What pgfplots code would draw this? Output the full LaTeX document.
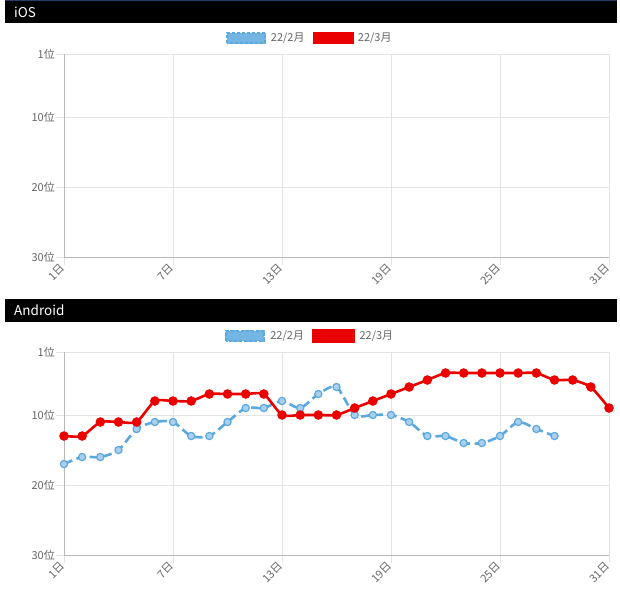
\documentclass[border=0pt]{standalone}
\usepackage{fontspec}
\setmainfont{Noto Sans CJK JP}
\usepackage{pgfplots}
\usepackage{pgfplotstable}
\pgfplotsset{compat=1.18}
\definecolor{lineblue}{RGB}{90,168,222}
\definecolor{markblue}{RGB}{170,208,238}
\definecolor{chartred}{RGB}{235,0,0}
\definecolor{gridgray}{RGB}{228,228,228}
\definecolor{axisgray}{RGB}{185,185,185}
\definecolor{labelgray}{RGB}{102,102,102}
\definecolor{topnavy}{RGB}{40,60,100}

\pgfplotstableread{
day rank
1 17
2 16
3 16
4 15
5 12
6 11
7 11
8 13
9 13
10 11
11 9
12 9
13 8
14 9
15 7
16 6
17 10
18 10
19 10
20 11
21 13
22 13
23 14
24 14
25 13
26 11
27 12
28 13
}\febdata

\pgfplotstableread{
day rank
1 13
2 13
3 11
4 11
5 11
6 8
7 8
8 8
9 7
10 7
11 7
12 7
13 10
14 10
15 10
16 10
17 9
18 8
19 7
20 6
21 5
22 4
23 4
24 4
25 4
26 4
27 4
28 5
29 5
30 6
31 9
}\mardata

\pgfplotsset{
  bluelegend/.style={legend image code/.code={
    \fill[lineblue!85] (0pt,-5pt) rectangle (38pt,5pt);
    \draw[lineblue, line width=1.5pt, dash pattern=on 3pt off 2pt] (0pt,-5pt) rectangle (38pt,5pt);}},
  redlegend/.style={legend image code/.code={
    \fill[chartred] (0pt,-5.5pt) rectangle (40pt,5.5pt);}},
  rankaxis/.style={
    scale only axis, width=545pt, height=203pt, anchor=north west,
    clip=false,
    xmin=1, xmax=31, ymin=1, ymax=30, y dir=reverse,
    xtick={1,7,13,19,25,31}, xticklabels={1日,7日,13日,19日,25日,31日},
    ytick={1,10,20,30}, yticklabels={1位,10位,20位,30位},
    grid=major, grid style={gridgray, line width=0.8pt},
    axis line style={gridgray, line width=0.8pt},
    tick align=outside, major tick length=8pt,
    tick style={gridgray, line width=0.8pt},
    tick pos=left,
    xticklabel style={rotate=45, anchor=east, font=\fontsize{11}{13}\selectfont, text=labelgray, inner sep=1.5pt},
    yticklabel style={font=\fontsize{11}{13}\selectfont, text=labelgray, inner sep=1pt},
    legend style={at={(0.4514,1.0788)}, anchor=center, draw=none, fill=none,
      font=\fontsize{11}{13}\selectfont, text=labelgray,
      /tikz/every odd column/.append style={column sep=3pt},
      /tikz/every even column/.append style={column sep=6pt}},
    legend columns=-1,
  }
}

\begin{document}
\begin{tikzpicture}
\useasboundingbox (0pt,0pt) rectangle (620pt,-592pt);
\fill[white] (0pt,0pt) rectangle (620pt,-592pt);
% iOS header
\fill[black] (5pt,-1pt) rectangle (617pt,-23pt);
\draw[topnavy, line width=1pt] (5pt,-0.5pt) -- (617pt,-0.5pt);
\node[anchor=west, text=white, font=\fontsize{13.5}{15}\selectfont, inner sep=0pt] at (14pt,-12pt) {iOS};
\begin{axis}[rankaxis, at={(64pt,-54pt)}]
\draw[axisgray, line width=0.9pt] (axis cs:1,1) -- (axis cs:1,30) -- (axis cs:31,30);
\addlegendimage{bluelegend}
\addlegendentry{22/2月}
\addlegendimage{redlegend}
\addlegendentry{22/3月}
\end{axis}
% Android header
\fill[black] (5pt,-299pt) rectangle (617pt,-322pt);
\node[anchor=west, text=white, font=\fontsize{13.5}{15}\selectfont, inner sep=0pt] at (14pt,-310.5pt) {Android};
\begin{axis}[rankaxis, at={(64pt,-352pt)}]
\draw[axisgray, line width=0.9pt] (axis cs:1,1) -- (axis cs:1,30) -- (axis cs:31,30);
\addplot[lineblue, line width=2.6pt, dash pattern=on 9pt off 4.5pt, smooth, tension=0.45,
  mark=*, mark size=3.6pt, mark options={solid, fill=markblue, draw=lineblue, line width=1.2pt},
  bluelegend] table[x=day, y=rank] {\febdata};
\addlegendentry{22/2月}
\addplot[chartred, line width=2.6pt, smooth, tension=0.35,
  mark=*, mark size=3.4pt, mark options={solid, fill=chartred, draw=chartred},
  redlegend] table[x=day, y=rank] {\mardata};
\addlegendentry{22/3月}
\end{axis}
\end{tikzpicture}
\end{document}
